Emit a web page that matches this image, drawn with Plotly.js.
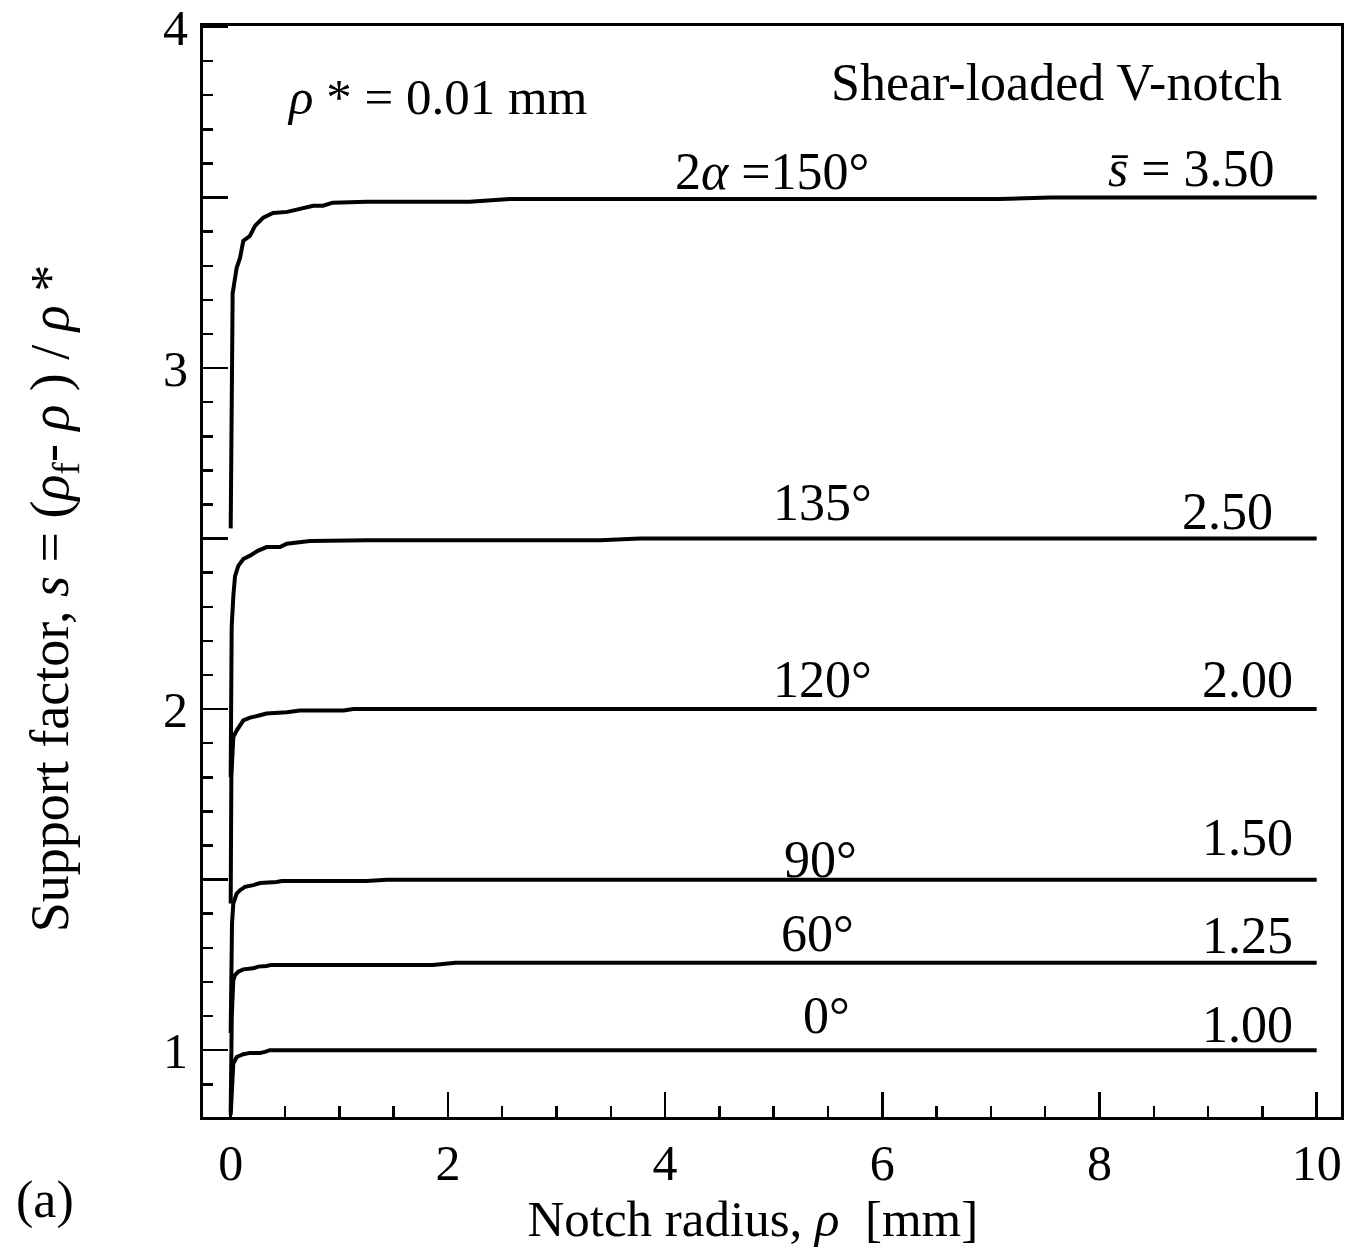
<!DOCTYPE html>
<html>
<head>
<meta charset="utf-8">
<script src="https://cdn.plot.ly/plotly-3.0.1.min.js"></script>
<style>
  html, body { margin: 0; padding: 0; background: #ffffff; }
  #chart { width: 1355px; height: 1247px; }
</style>
</head>
<body>
<div id="chart"></div>
<script>
// ---- Data (notch radius rho [mm] vs support factor s) ----
const rho150 = [0.0, 0.005, 0.012, 0.018, 0.026, 0.055, 0.086, 0.116, 0.178, 0.224, 0.30, 0.39, 0.52, 0.64, 0.76, 0.85, 0.94, 1.25, 2.20, 2.57, 7.08, 7.55, 10.0];
const s150   = [2.53, 2.90, 3.07, 3.22, 3.235, 3.294, 3.323, 3.373, 3.388, 3.417, 3.441, 3.455, 3.458, 3.467, 3.476, 3.476, 3.485, 3.488, 3.488, 3.496, 3.496, 3.50, 3.50];

const rho135 = [0.0, 0.004, 0.009, 0.024, 0.040, 0.070, 0.116, 0.178, 0.254, 0.331, 0.454, 0.516, 0.638, 0.730, 1.25, 3.40, 3.77, 10.0];
const s135   = [1.80, 2.08, 2.24, 2.33, 2.39, 2.42, 2.44, 2.45, 2.465, 2.475, 2.475, 2.485, 2.49, 2.493, 2.495, 2.495, 2.50, 2.50];

const rho120 = [0.0, 0.006, 0.024, 0.055, 0.116, 0.178, 0.27, 0.33, 0.516, 0.638, 1.04, 1.13, 10.0];
const s120   = [1.43, 1.80, 1.918, 1.937, 1.967, 1.975, 1.982, 1.987, 1.991, 1.996, 1.996, 2.0, 2.0];

const rho90 = [0.0, 0.012, 0.024, 0.055, 0.086, 0.132, 0.208, 0.27, 0.424, 0.47, 1.25, 1.44, 10.0];
const s90   = [1.05, 1.37, 1.43, 1.459, 1.469, 1.479, 1.484, 1.49, 1.493, 1.496, 1.496, 1.50, 1.50];

const rho60 = [0.0, 0.01, 0.024, 0.04, 0.07, 0.116, 0.208, 0.254, 0.33, 0.375, 1.86, 2.07, 10.0];
const s60   = [0.82, 1.10, 1.205, 1.22, 1.23, 1.237, 1.24, 1.245, 1.247, 1.25, 1.25, 1.256, 1.256];

const rho0 = [0.0, 0.012, 0.024, 0.055, 0.116, 0.178, 0.27, 0.316, 0.36, 10.0];
const s0   = [0.81, 0.90, 0.961, 0.98, 0.988, 0.992, 0.992, 0.995, 1.0, 1.0];

const angleLabels   = ["2<i>α</i> =150°", "135°", "120°", "90°", "60°", "0°"];
const plateauLabels = ["<i>s̄</i> = 3.50", "2.50", "2.00", "1.50", "1.25", "1.00"];

const xTickVals = [0, 2, 4, 6, 8, 10];
const xTickText = ["0", "2", "4", "6", "8", "10"];
const yTickVals = [1, 2, 3, 4];
const yTickText = ["1", "2", "3", "4"];
const yHalfTicks = [1.5, 2.5, 3.5];

// ---- Drawing ----
const FONT = "Liberation Serif, Times New Roman, serif";
const seriesX = [rho150, rho135, rho120, rho90, rho60, rho0];
const seriesY = [s150, s135, s120, s90, s60, s0];

const traces = seriesX.map((xs, i) => ({
  x: xs, y: seriesY[i], type: "scatter", mode: "lines",
  line: { color: "#000000", width: 4 },
  name: angleLabels[i], showlegend: false, hoverinfo: "skip", cliponaxis: true
}));

const Y_RANGE = [0.804, 4.003];

// label placement (layout, not data)
const anglePos = [[4.98, 3.577], [5.449, 2.607], [5.449, 2.086], [5.431, 1.560], [5.40, 1.341], [5.486, 1.103]];
const plateauPos = [[9.634, 3.585], [9.616, 2.578], [9.80, 2.086], [9.80, 1.623], [9.80, 1.335], [9.80, 1.075]];

const annFont = { family: FONT, size: 52, color: "#000000" };
const annotations = [];
angleLabels.forEach((t, i) => annotations.push({
  x: anglePos[i][0], y: anglePos[i][1], xref: "x", yref: "y", text: t,
  showarrow: false, xanchor: "center", yanchor: "middle", font: annFont
}));
plateauLabels.forEach((t, i) => annotations.push({
  x: plateauPos[i][0], y: plateauPos[i][1], xref: "x", yref: "y", text: t,
  showarrow: false, xanchor: "right", yanchor: "middle", font: annFont
}));
annotations.push({ x: 0.50, y: 3.795, xref: "x", yref: "y", text: "<i>ρ</i> * = 0.01 mm",
  showarrow: false, xanchor: "left", yanchor: "middle", font: { family: FONT, size: 51, color: "#000000" } });
annotations.push({ x: 7.601, y: 3.836, xref: "x", yref: "y", text: "Shear-loaded V-notch",
  showarrow: false, xanchor: "center", yanchor: "middle", font: annFont });
annotations.push({ x: -0.1388, y: -0.076, xref: "paper", yref: "paper", text: "(a)",
  showarrow: false, xanchor: "center", yanchor: "middle", font: annFont });

const layout = {
  width: 1355, height: 1247,
  margin: { l: 203, r: 14, t: 26, b: 130, pad: 0 },
  paper_bgcolor: "#ffffff", plot_bgcolor: "#ffffff",
  font: { family: FONT, color: "#000000" },
  showlegend: false,
  xaxis: {
    range: [-0.255, 10.224], showgrid: false, zeroline: false,
    showline: true, linecolor: "#000000", linewidth: 3, mirror: true,
    tickmode: "array", tickvals: xTickVals, ticktext: xTickText,
    ticks: "inside", ticklen: 25, tickwidth: 2.5, tickcolor: "#000000",
    minor: { ticks: "inside", dtick: 0.5, tick0: 0, ticklen: 11, tickwidth: 2.5, tickcolor: "#000000", showgrid: false },
    tickfont: { family: FONT, size: 50, color: "#000000" },
    ticklabelstandoff: 0, ticklabeloverflow: "allow",
    title: { text: "Notch radius, <i>ρ</i>  [mm]&nbsp;&nbsp;&nbsp;", font: { family: FONT, size: 51, color: "#000000" }, standoff: 12 },
    automargin: false
  },
  yaxis: {
    range: Y_RANGE, showgrid: false, zeroline: false,
    showline: true, linecolor: "#000000", linewidth: 3, mirror: true,
    tickmode: "array", tickvals: yTickVals, ticktext: yTickText,
    ticks: "inside", ticklen: 25, tickwidth: 2.5, tickcolor: "#000000",
    minor: { ticks: "inside", dtick: 0.1, tick0: 0, ticklen: 10, tickwidth: 2.5, tickcolor: "#000000", showgrid: false },
    tickfont: { family: FONT, size: 50, color: "#000000" },
    ticklabelstandoff: 2, ticklabeloverflow: "allow",
    title: { text: "Support factor, <i>s</i> = (<i>ρ</i><sub>f</sub>- <i>ρ</i> ) / <i>ρ</i> *&nbsp;&nbsp;&nbsp;&nbsp;", font: { family: FONT, size: 54, color: "#000000" }, standoff: 78 },
    automargin: false
  },
  yaxis2: {
    range: Y_RANGE, overlaying: "y", side: "left", anchor: "x",
    showgrid: false, zeroline: false, showline: false,
    tickmode: "array", tickvals: yHalfTicks, showticklabels: false,
    ticks: "inside", ticklen: 25, tickwidth: 2.5, tickcolor: "#000000"
  },
  annotations: annotations
};

// invisible helper trace so the half-unit major ticks axis is drawn
traces.push({ x: [], y: [], yaxis: "y2", type: "scatter", mode: "lines", showlegend: false, hoverinfo: "skip" });

Plotly.newPlot("chart", traces, layout, { displayModeBar: false, staticPlot: true });
</script>
</body>
</html>
